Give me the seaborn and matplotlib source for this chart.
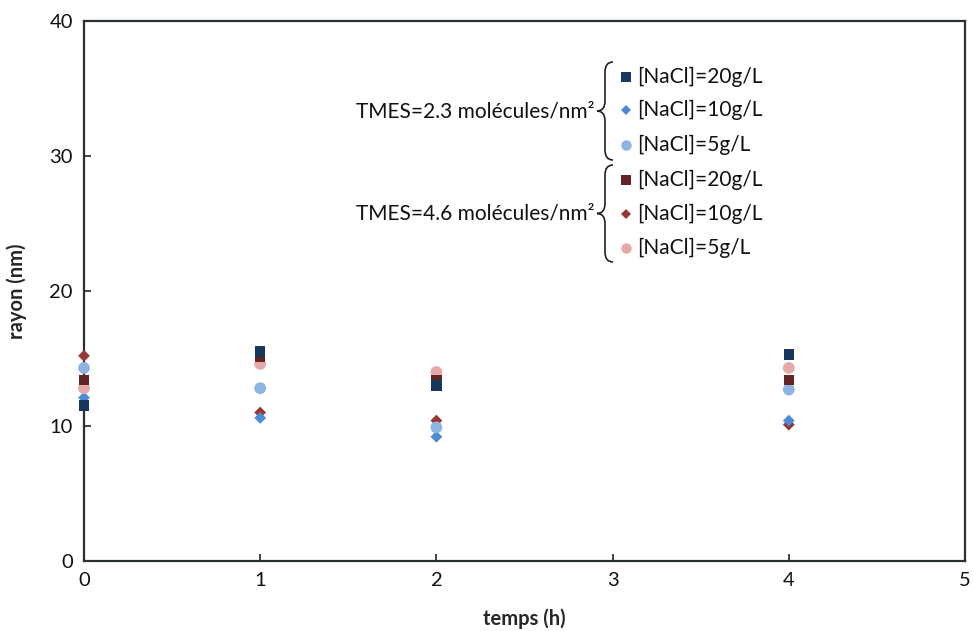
import numpy as np
import pandas as pd
import matplotlib
matplotlib.use("Agg")
import matplotlib.pyplot as plt
from matplotlib.path import Path
from matplotlib.patches import PathPatch
from matplotlib.lines import Line2D
import seaborn as sns

# ---- data ----
temps = [0, 1, 2, 4]
t23_nacl20 = [11.5, 15.5, 13.0, 15.3]
t23_nacl10 = [12.1, 10.6, 9.2, 10.4]
t23_nacl5 = [14.3, 12.8, 9.9, 12.7]
t46_nacl20 = [13.4, 15.1, 13.4, 13.4]
t46_nacl10 = [15.2, 11.0, 10.4, 10.1]
t46_nacl5 = [12.8, 14.6, 14.0, 14.3]

series_names = ["t23_20", "t23_10", "t23_5", "t46_20", "t46_10", "t46_5"]
series_values = [t23_nacl20, t23_nacl10, t23_nacl5, t46_nacl20, t46_nacl10, t46_nacl5]
legend_labels = ["[NaCl]=20g/L", "[NaCl]=10g/L", "[NaCl]=5g/L"] * 2
group_labels = ["TMES=2.3 molécules/nm²", "TMES=4.6 molécules/nm²"]

colors = ["#17375E", "#4A8AD6", "#8DB4E2", "#632523", "#953735", "#E6A9A8"]
markers = ["s", "D", "o", "s", "D", "o"]
sizes = [58, 36, 72, 58, 36, 72]

rows = []
for name, vals in zip(series_names, series_values):
    for t, v in zip(temps, vals):
        rows.append({"temps": t, "rayon": v, "serie": name})
df = pd.DataFrame(rows)

sns.set_style("white")
plt.rcParams["font.family"] = ["Lato", "DejaVu Sans"]

W, H = 974, 631
fig = plt.figure(figsize=(W / 100, H / 100), dpi=100)
ax = fig.add_axes([84 / W, 1 - 561 / H, (965 - 84) / W, (561 - 21) / H])

draw_order = [4, 1, 2, 5, 3, 0]
for i in draw_order:
    sub = df[df["serie"] == series_names[i]]
    sns.scatterplot(data=sub, x="temps", y="rayon", ax=ax, color=colors[i],
                    marker=markers[i], s=sizes[i], edgecolor="none", linewidth=0,
                    legend=False, zorder=3, clip_on=False)

ax.set_xlim(0, 5)
ax.set_ylim(0, 40)
ax.set_xticks(range(0, 6))
ax.set_yticks(range(0, 41, 10))
ax.tick_params(axis="both", labelsize=14.5, direction="in", length=5, width=1.2,
               colors="#222222", labelcolor="#111111", pad=8)
ax.tick_params(top=False, right=False, bottom=True, left=True)
for s in ax.spines.values():
    s.set_color("#2a2f33")
    s.set_linewidth(1.6)
ax.set_xlabel("temps (h)", fontsize=14.5, fontweight="bold", labelpad=14)
ax.set_ylabel("rayon (nm)", fontsize=14.5, fontweight="bold", labelpad=16)


def px(x, y):
    return (x / W, 1 - y / H)


def brace(xr, xm, xt, yt, yb, r=10):
    yc = (yt + yb) / 2
    pts = [(xr, yt), (xm, yt), (xm, yt + r), (xm, yc - r), (xm, yc), (xt, yc),
           (xm, yc), (xm, yc + r), (xm, yb - r), (xm, yb), (xr, yb)]
    codes = [Path.MOVETO, Path.CURVE3, Path.CURVE3, Path.LINETO, Path.CURVE3, Path.CURVE3,
             Path.CURVE3, Path.CURVE3, Path.LINETO, Path.CURVE3, Path.CURVE3]
    verts = [px(*p) for p in pts]
    patch = PathPatch(Path(verts, codes), transform=fig.transFigure, fill=False,
                      edgecolor="#222222", linewidth=1.2)
    fig.patches.append(patch)


rows_y = [77, 110, 145, 180, 214, 248]
for i, y in enumerate(rows_y):
    fig.add_artist(Line2D([px(626, y)[0]], [px(626, y)[1]], transform=fig.transFigure,
                          marker=markers[i], color=colors[i], markersize=7.5 if markers[i] != "D" else 5.5,
                          linestyle="none", markeredgewidth=0))
    fig.text(*px(637, y), legend_labels[i], fontsize=15, va="center", ha="left", color="#111111")

brace(613, 605, 597, 62, 160)
brace(613, 605, 597, 165, 262)
fig.text(*px(594, 111), group_labels[0], fontsize=15, va="center", ha="right", color="#111111")
fig.text(*px(594, 214), group_labels[1], fontsize=15, va="center", ha="right", color="#111111")

fig.savefig("out.png", dpi=100)
